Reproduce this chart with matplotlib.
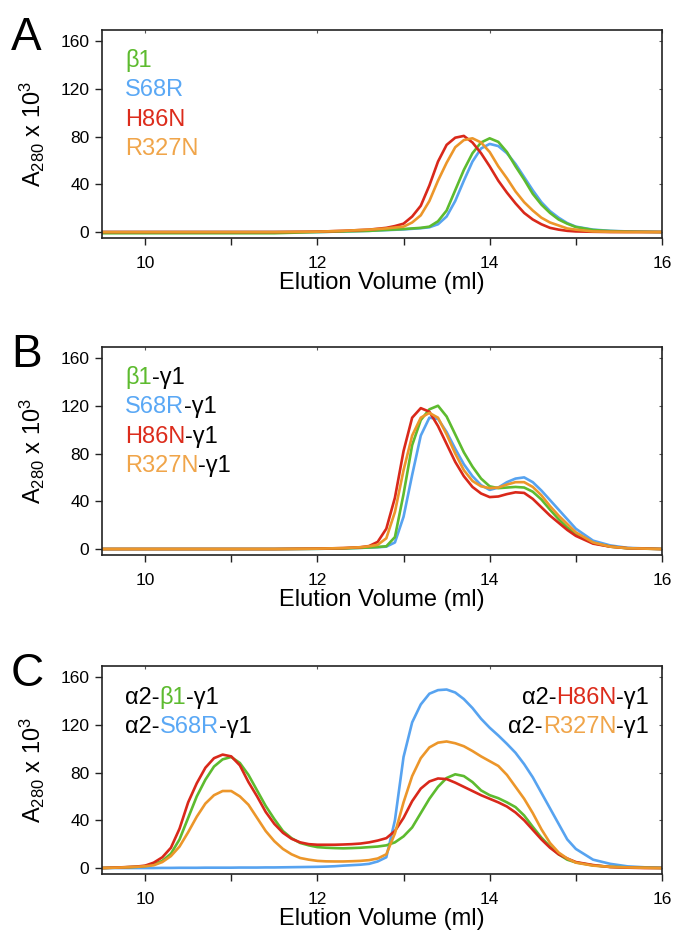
import matplotlib.pyplot as plt
import numpy as np
from matplotlib.ticker import MultipleLocator

plt.rcParams.update({
    "font.family": ["Liberation Sans", "DejaVu Sans"],
    "mathtext.default": "regular",
})

# ---- data (A280 x 10^3 vs elution volume, ml) ----
dense = np.round(np.arange(13.0, 15.01, 0.1), 1)
xA = np.concatenate([[9.5, 10.5, 11.5, 12.0, 12.3, 12.6, 12.8, 12.9], dense, [15.2, 15.4, 15.6, 16.0]])
a_b1 = [-1, -1, -1, 0, 0.5, 1, 1.8, 2.1,
        2.5, 3, 3.5, 4.5, 9, 18, 35, 52, 66, 75, 78.5, 75.5, 67, 55, 44, 32, 23, 16, 10.5, 7, 4.2,
        1.7, 0.8, 0.4, 0]
a_s68r = [0, 0, 0, 0, 0.5, 1, 1.6, 1.9,
          2.2, 2.7, 3.2, 4, 6.5, 13, 26, 43, 59, 70, 73.8, 72, 66, 57, 46, 35, 25, 17.5, 12, 7.5, 4.5,
          2, 1, 0.5, 0]
a_h86n = [0, 0, 0, 0.3, 1, 2, 3.5, 5,
          7, 13, 22, 39, 59, 73, 79, 80.5, 75, 66, 55, 43, 33, 24, 16, 10.5, 6.5, 3.5, 2, 1, 0.5,
          0.2, 0, 0, 0]
a_r327n = [0, 0, 0, 0.3, 1, 2, 3, 3.8,
           4.5, 8, 14, 26, 43, 58, 71, 77, 78.5, 75, 67, 55, 45, 34, 25, 18, 12, 8, 5.5, 3, 2,
           0.5, 0.2, 0, 0]

xB = np.concatenate([[9.5, 10.5, 11.5, 12.0, 12.3, 12.5, 12.6, 12.7, 12.8, 12.9], dense, [15.2, 15.4, 15.6, 16.0]])
b_b1 = [0, 0, 0, 0.2, 0.5, 1, 1.3, 1.7, 2.3, 10,
        46, 87, 108, 117, 120, 111, 96, 81, 69, 59, 52.5, 51, 51.5, 52, 51.5, 48, 41.5, 33, 25, 18, 13,
        5, 2, 0.6, 0]
b_s68r = [0, 0, 0, 0.2, 0.5, 1, 1.2, 1.5, 2, 5.5,
          27, 62, 95, 110, 109, 98, 84, 71, 61, 53.5, 49.5, 51.5, 56, 59, 60, 56, 49, 41, 33, 25, 17,
          7, 3, 1, 0]
b_h86n = [0, 0, 0, 0.3, 0.8, 1.5, 2.5, 6, 17, 43,
          82, 110, 118, 115, 103, 88, 73, 61, 52, 46.5, 43.5, 44, 46, 47.5, 47, 42, 35, 28, 22, 16, 11,
          4.5, 2, 0.7, 0]
b_r327n = [0, 0, 0, 0.3, 0.8, 1.5, 2.3, 3.5, 9, 31,
           66, 95, 110, 114, 110, 96, 80, 66, 57, 52.5, 51, 51.5, 54, 56, 56, 52, 45, 36, 28, 21, 14,
           5.5, 2, 0.7, 0]

xC = np.concatenate([[9.5, 9.7, 9.9], np.round(np.arange(10.0, 15.01, 0.1), 1), [15.2, 15.4, 15.6, 15.8, 16.0]])
c_b1 = [0, 0.4, 1,
        1.6, 3, 6, 12, 24, 42, 60, 74, 85, 91,
        93, 88, 78, 65, 52, 41, 31, 25, 21, 19,
        17.5, 17, 16.7, 16.5, 16.7, 17, 17.5, 18, 19, 21.5,
        26.5, 34, 46, 58, 68, 75.4, 78.5, 77, 72, 65,
        61, 58.5, 55, 51, 44, 34.5, 25.5, 18, 11.5, 7,
        4.7,
        2.2, 1, 0.6, 0.3, 0]
c_s68r = [0, 0, 0,
          0, 0, 0.1, 0.1, 0.2, 0.2, 0.2, 0.3, 0.3, 0.3,
          0.3, 0.4, 0.4, 0.4, 0.5, 0.5, 0.6, 0.7, 0.8, 0.9,
          1, 1.2, 1.5, 2, 2.4, 2.8, 3.5, 5.5, 9, 40,
          93, 122, 137, 146, 149, 149.5, 147, 141.5, 134, 125,
          117.5, 111, 104, 96.5, 87, 76, 63, 50, 37, 24,
          16,
          7, 3.5, 1.4, 0.6, 0.3]
c_h86n = [0, 0.5, 1.2,
          2, 4.5, 9, 17, 33, 55, 71, 84, 92, 95,
          93.5, 86, 72, 60, 47, 37, 29.5, 24.5, 21.5, 20,
          19.5, 19.5, 19.5, 19.7, 20, 20.5, 21.5, 23, 25, 31,
          42, 56, 66.5, 72.5, 75, 74.5, 71.5, 68, 64.5, 61,
          58, 55, 51.5, 46.5, 40, 32, 24, 17, 11.5, 8,
          5,
          2.5, 0.8, 0.3, 0, 0]
c_r327n = [0, 0.4, 1,
           1.5, 2.3, 5, 10, 18, 30, 43, 54, 61, 64.5,
           64.5, 60, 53, 42, 31, 22.5, 16, 11.5, 8.4, 7,
           6, 5.6, 5.5, 5.5, 5.7, 6, 6.6, 8, 11.5, 29,
           55, 77, 92, 101, 105, 106, 104.5, 102, 98, 93.5,
           89.5, 85.5, 78, 68, 58, 46, 32.5, 21, 13, 8,
           4.5,
           2, 1, 0.5, 0.2, 0]

names = ["β1", "S68R", "H86N", "R327N"]
line_colors = ["#5dbb2f", "#57a3f0", "#d9281a", "#ec962a"]
text_colors = ["#5dbb2f", "#5aa8f5", "#dc2c1c", "#f0a54a"]

panels = [
    ("A", xA, [a_b1, a_s68r, a_h86n, a_r327n]),
    ("B", xB, [b_b1, b_s68r, b_h86n, b_r327n]),
    ("C", xC, [c_b1, c_s68r, c_h86n, c_r327n]),
]

W, H = 676, 935
fig = plt.figure(figsize=(W / 100, H / 100), dpi=100)
tops = [30, 347, 666]
ax_h = 208
left, right = 102, 662

FS = 17


def chain_left(ax, x, y, pieces):
    t = ax.text(x, y, pieces[0][0], color=pieces[0][1], fontsize=FS,
                transform=ax.transAxes, ha="left", va="bottom")
    for s, c in pieces[1:]:
        t = ax.annotate(s, xy=(1, 0), xycoords=t, color=c, fontsize=FS,
                        ha="left", va="bottom")


def chain_right(ax, x, y, pieces):
    s, c = pieces[-1]
    t = ax.text(x, y, s, color=c, fontsize=FS, transform=ax.transAxes,
                ha="right", va="bottom")
    for s, c in reversed(pieces[:-1]):
        t = ax.annotate(s, xy=(0, 0), xycoords=t, color=c, fontsize=FS,
                        ha="right", va="bottom")


for (letter, x, series), top in zip(panels, tops):
    ax = fig.add_axes([left / W, 1 - (top + ax_h) / H, (right - left) / W, ax_h / H])
    for i in [1, 0, 2, 3]:
        ax.plot(x, series[i], color=line_colors[i], lw=1.9,
                solid_capstyle="round", solid_joinstyle="round")
    ax.set_xlim(9.5, 16)
    ax.set_ylim(-5, 169.2)
    ax.set_xticks([10, 12, 14, 16])
    ax.xaxis.set_minor_locator(MultipleLocator(1))
    ax.set_yticks([0, 40, 80, 120, 160])
    ax.tick_params(which="both", direction="out", length=5, width=1, labelsize=12.5,
                   color="#222222", top=False, right=False)
    ax.tick_params(axis="x", pad=8)
    ax.tick_params(axis="y", pad=4)
    for sp in ax.spines.values():
        sp.set_linewidth(1.2)
        sp.set_color("#222222")
    # small inward marks on the top and right frame
    sec_x = ax.secondary_xaxis("top")
    sec_x.set_xticks([10, 12, 14, 16])
    sec_x.tick_params(direction="in", length=2.5, width=0.8, labeltop=False, color="#555555")
    sec_x.spines["top"].set_visible(False)
    sec_y = ax.secondary_yaxis("right")
    sec_y.set_yticks([0, 40, 80, 120, 160])
    sec_y.tick_params(direction="in", length=2.5, width=0.8, labelright=False, color="#555555")
    sec_y.spines["right"].set_visible(False)

    ax.set_xlabel("Elution Volume (ml)", fontsize=17, labelpad=1)
    ax.set_ylabel(r"A$_{280}$ x 10$^3$", fontsize=17)
    ax.yaxis.set_label_coords(-0.098, 0.5)
    fig.text(11 / W, 1 - (top + 20) / H, letter, fontsize=33, ha="left", va="baseline")

    if letter == "A":
        for k in range(4):
            chain_left(ax, 0.041, 0.80 - 0.142 * k, [(names[k], text_colors[k])])
    elif letter == "B":
        for k in range(4):
            chain_left(ax, 0.041, 0.80 - 0.142 * k, [(names[k], text_colors[k]), ("-γ1", "black")])
    else:
        for k in range(2):
            chain_left(ax, 0.041, 0.795 - 0.14 * k,
                       [("α2-", "black"), (names[k], text_colors[k]), ("-γ1", "black")])
        for k in range(2, 4):
            chain_right(ax, 0.977, 0.795 - 0.14 * (k - 2),
                        [("α2-", "black"), (names[k], text_colors[k]), ("-γ1", "black")])

fig.savefig("out.png", dpi=100)
